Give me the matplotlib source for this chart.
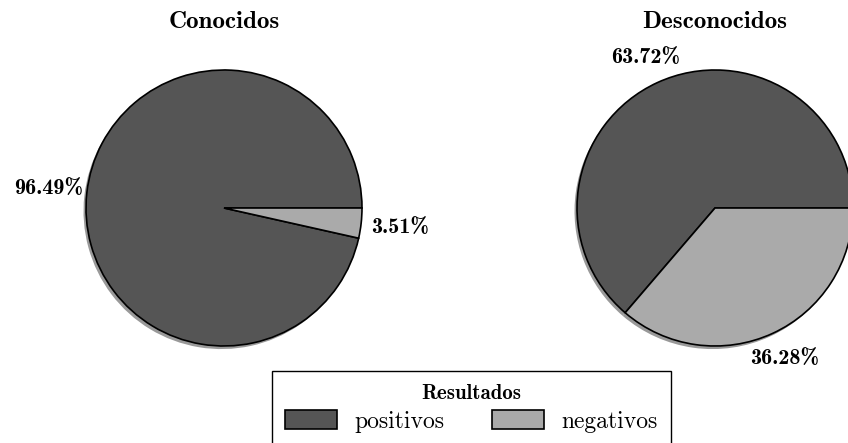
import numpy as np
import matplotlib.pyplot as plt

# porcentajes de resultados por grupo
grupos = ['Conocidos', 'Desconocidos']
positivos = [96.49, 63.72]
negativos = [3.51, 36.28]
etiquetas = ['positivos', 'negativos']
colores = ['#555555', '#aaaaaa']

plt.rcParams['axes.unicode_minus'] = False

W, H = 848.0, 443.0
r = 138.0
lim = 1.4
lado = 2 * lim * r
centros = [(224, 208), (715, 208)]
dist_pct = [1.28, 1.2]

fig = plt.figure(figsize=(W / 100, H / 100), dpi=100)

sombra = dict(ox=-0.013, oy=-0.016, facecolor='0.6', edgecolor='none', linewidth=0, alpha=1)

wedges_all = []
for g, p, n, (cx, cy), d in zip(grupos, positivos, negativos, centros, dist_pct):
    ax = fig.add_axes([(cx - lado / 2) / W, (H - cy - lado / 2) / H, lado / W, lado / H])
    wedges, texts, autotexts = ax.pie([p, n], colors=colores, startangle=0, counterclock=True,
                                      shadow=sombra, autopct='%.2f%%', pctdistance=d,
                                      wedgeprops=dict(edgecolor='black', linewidth=1.2),
                                      textprops=dict(family='cmb10', fontsize=16))
    ax.set_xlim(-lim, lim)
    ax.set_ylim(-lim, lim)
    ax.set_aspect('equal')
    ax.axis('off')
    ax.text(0, (cy - 22) / r, g, ha='center', va='center', family='cmb10', fontsize=18)
    wedges_all = wedges

leg = fig.legend(wedges_all, etiquetas, loc='upper center', bbox_to_anchor=(471.5 / W, 1 - 371 / H),
                 ncol=2, title='Resultados', fancybox=False, edgecolor='black', framealpha=1,
                 prop=dict(family='cmr10', size=17), handlelength=2.2, handleheight=0.85,
                 handletextpad=0.75, columnspacing=2.0, borderpad=0.55, labelspacing=0.3,
                 borderaxespad=0)
leg.get_title().set_family('cmb10')
leg.get_title().set_fontsize(15)
leg.get_frame().set_linewidth(1.0)

plt.savefig('out.png', dpi=100)
